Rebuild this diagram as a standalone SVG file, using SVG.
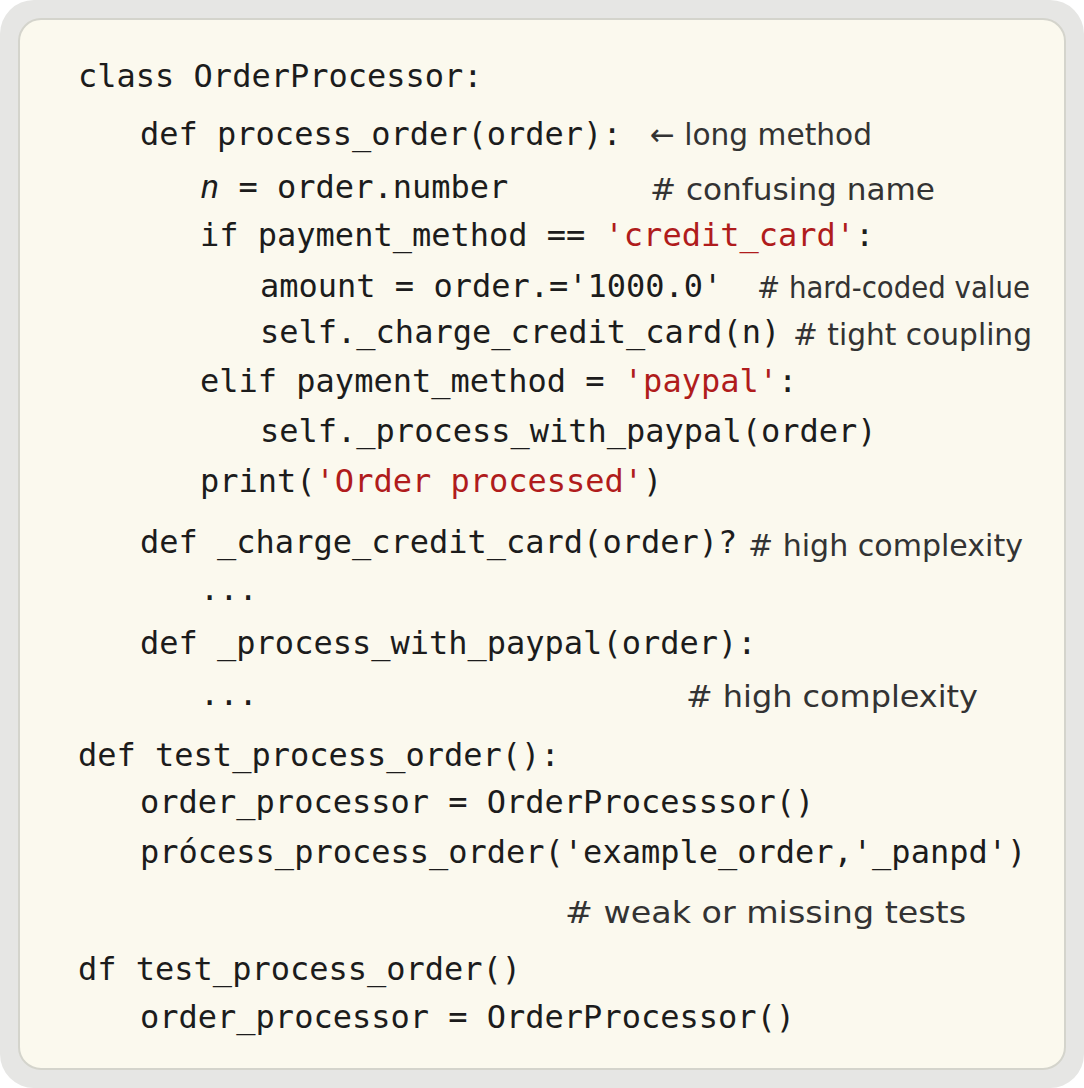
<svg xmlns="http://www.w3.org/2000/svg" width="1084" height="1088" viewBox="0 0 1084 1088">
<style>
.c{font-family:"DejaVu Sans Mono","Liberation Mono",monospace;font-size:32px;fill:#1c1c1c}
.s{fill:#b01c1c}
.m{font-family:"DejaVu Sans","Liberation Sans",sans-serif;font-size:30px;fill:#333}
</style>
<rect x="0" y="0" width="1084" height="1088" rx="34" fill="#e6e6e4"/>
<rect x="19" y="19" width="1046" height="1050" rx="22" fill="#fbf9ee" stroke="#d4d4cc" stroke-width="2"/>
<g id="code">
<text class="c" x="78" y="87">class OrderProcessor:</text>
<text class="c" x="140" y="145">def process_order(order):</text>
<text class="m" x="650" y="145" textLength="222" lengthAdjust="spacingAndGlyphs">← long method</text>
<text class="c" x="200" y="198"><tspan font-style="italic">n</tspan> = order.number</text>
<text class="m" x="650" y="200" textLength="285" lengthAdjust="spacingAndGlyphs"># confusing name</text>
<text class="c" x="200" y="246">if payment_method == <tspan class="s">'credit_card'</tspan>:</text>
<text class="c" x="260" y="297">amount = order.='1000.0'</text>
<text class="m" x="757" y="298" textLength="273" lengthAdjust="spacingAndGlyphs"># hard-coded value</text>
<text class="c" x="260" y="343">self._charge_credit_card(n)</text>
<text class="m" x="793" y="345" textLength="239" lengthAdjust="spacingAndGlyphs"># tight coupling</text>
<text class="c" x="200" y="392">elif payment_method = <tspan class="s">'paypal'</tspan>:</text>
<text class="c" x="260" y="442">self._process_with_paypal(order)</text>
<text class="c" x="200" y="492">print(<tspan class="s">'Order processed'</tspan>)</text>
<text class="c" x="140" y="553">def _charge_credit_card(order)?</text>
<text class="m" x="748" y="556" textLength="275" lengthAdjust="spacingAndGlyphs"># high complexity</text>
<text class="c" x="200" y="600">...</text>
<text class="c" x="140" y="654">def _process_with_paypal(order):</text>
<text class="c" x="200" y="705">...</text>
<text class="m" x="686" y="707" textLength="292" lengthAdjust="spacingAndGlyphs"># high complexity</text>
<text class="c" x="78" y="766">def test_process_order():</text>
<text class="c" x="140" y="813">order_processor = OrderProcesssor()</text>
<text class="c" x="140" y="863">prócess_process_order('example_order,'_panpd')</text>
<text class="m" x="565" y="923" textLength="401" lengthAdjust="spacingAndGlyphs"># weak or missing tests</text>
<text class="c" x="78" y="980">df test_process_order()</text>
<text class="c" x="140" y="1028">order_processor = OrderProcessor()</text>
</g>
</svg>
